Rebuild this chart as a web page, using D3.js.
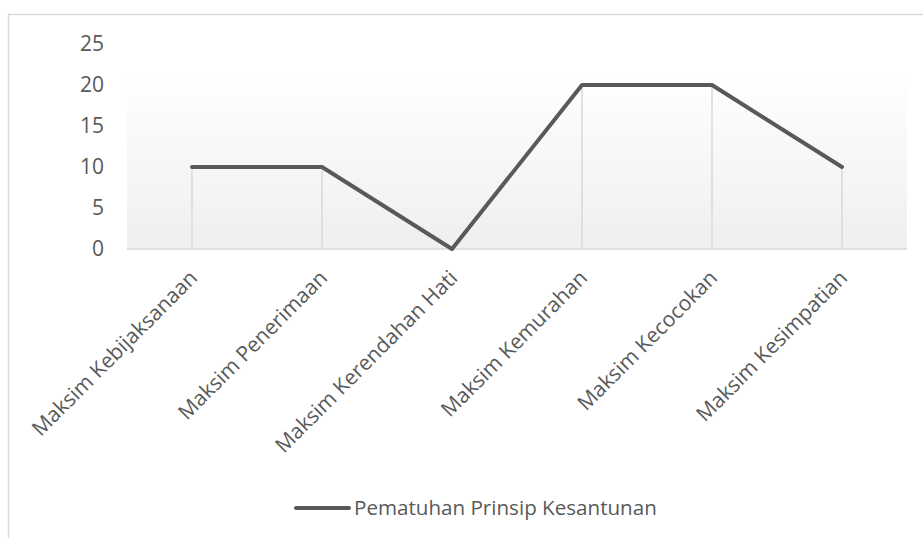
<!DOCTYPE html>
<html>
<head>
<meta charset="utf-8">
<script src="https://cdn.jsdelivr.net/npm/d3@7"></script>
<style>
  body { margin: 0; background: #fff; }
  svg { display: block; font-family: "Open Sans", sans-serif; }
</style>
</head>
<body>
<div id="chart"></div>
<script>
var categories = ["Maksim Kebijaksanaan", "Maksim Penerimaan", "Maksim Kerendahan Hati",
                  "Maksim Kemurahan", "Maksim Kecocokan", "Maksim Kesimpatian"];
var values = [10, 10, 0, 20, 20, 10];
var yTicks = [0, 5, 10, 15, 20, 25];
var seriesName = "Pematuhan Prinsip Kesantunan";

var W = 923, H = 538;
var margin = {top: 44, right: 16, bottom: 289, left: 127};
var width = 907 - margin.left,
    height = 249 - margin.top;
var fontFam = "'Open Sans', sans-serif";

var svg = d3.select("#chart").append("svg")
  .attr("width", W).attr("height", H);

// chart area border
svg.append("rect")
  .attr("x", 8.5).attr("y", 14.5)
  .attr("width", W + 10).attr("height", H + 10)
  .attr("fill", "#fff").attr("stroke", "#d9d9d9").attr("stroke-width", 1.5);

var defs = svg.append("defs");
var grad = defs.append("linearGradient").attr("id", "bg")
  .attr("x1", 0).attr("y1", 0).attr("x2", 0).attr("y2", 1);
grad.append("stop").attr("offset", 0).attr("stop-color", "#ffffff");
grad.append("stop").attr("offset", 1).attr("stop-color", "#efefef");

var g = svg.append("g").attr("transform", "translate(" + margin.left + "," + margin.top + ")");

var x = d3.scalePoint().domain(categories).range([0, width]).padding(0.5);
var y = d3.scaleLinear().domain([0, 25]).range([height, 0]);

// plot area background
g.append("rect")
  .attr("x", 0).attr("y", y(21.8))
  .attr("width", width).attr("height", y(0) - y(21.8))
  .attr("fill", "url(#bg)");

// drop lines
g.selectAll(".drop").data(values).enter().append("line")
  .attr("x1", function(d, i) { return x(categories[i]); })
  .attr("x2", function(d, i) { return x(categories[i]); })
  .attr("y1", function(d) { return y(d); })
  .attr("y2", y(0))
  .attr("stroke", "#d9d9d9").attr("stroke-width", 1.5);

// baseline
g.append("line")
  .attr("x1", 0).attr("x2", width)
  .attr("y1", y(0)).attr("y2", y(0))
  .attr("stroke", "#d9d9d9").attr("stroke-width", 1.5);

// y axis labels
var yAxis = g.append("g")
  .call(d3.axisLeft(y).tickValues(yTicks).tickSize(0).tickPadding(23));
yAxis.select(".domain").remove();
yAxis.selectAll("text")
  .attr("font-size", 21).attr("font-family", fontFam)
  .attr("fill", "#595959");

// x axis labels
var xAxis = g.append("g")
  .attr("transform", "translate(0," + height + ")")
  .call(d3.axisBottom(x).tickSize(0));
xAxis.select(".domain").remove();
xAxis.selectAll("text")
  .attr("font-size", 21).attr("font-family", fontFam)
  .attr("fill", "#595959")
  .attr("text-anchor", "end")
  .attr("dy", "0.35em")
  .attr("transform", "translate(1,25) rotate(-45)")
  .attr("x", 0).attr("y", 0);

// line
var line = d3.line()
  .x(function(d, i) { return x(categories[i]); })
  .y(function(d) { return y(d); });

g.append("path")
  .datum(values)
  .attr("d", line)
  .attr("fill", "none")
  .attr("stroke", "#595959")
  .attr("stroke-width", 4)
  .attr("stroke-linejoin", "round")
  .attr("stroke-linecap", "round");

// legend
var legend = svg.append("g").attr("transform", "translate(296,508)");
legend.append("line")
  .attr("x1", 0).attr("x2", 53).attr("y1", 0).attr("y2", 0)
  .attr("stroke", "#595959").attr("stroke-width", 4).attr("stroke-linecap", "round");
legend.append("text")
  .attr("x", 58).attr("y", 0).attr("dy", "0.35em")
  .attr("font-size", 20.6).attr("font-family", fontFam).attr("fill", "#595959")
  .text(seriesName);
</script>
</body>
</html>
